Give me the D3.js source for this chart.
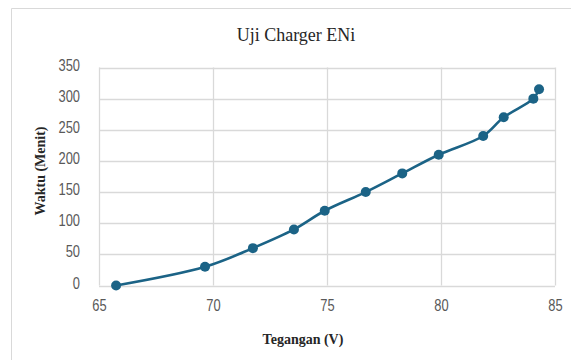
<!DOCTYPE html>
<html><head><meta charset="utf-8">
<script src="https://cdn.jsdelivr.net/npm/d3@7"></script>
<style>
html,body{margin:0;padding:0;background:#fff;}
svg{display:block;}
</style></head>
<body>
<svg id="chart" width="571" height="360"></svg>
<script>
const title = "Uji Charger ENi";
const xTitle = "Tegangan (V)";
const yTitle = "Waktu (Menit)";
const voltage = [65.75, 69.65, 71.75, 73.55, 74.9, 76.7, 78.3, 79.9, 81.85, 82.75, 84.05, 84.3];
const minutes = [0, 30, 60, 90, 120, 150, 180, 210, 240, 270, 300, 315];
const xTicks = [65, 70, 75, 80, 85];
const yTicks = [0, 50, 100, 150, 200, 250, 300, 350];

const svg = d3.select("#chart");
const m = {left: 99, right: 555, top: 67.5, bottom: 285.5};
const x = d3.scaleLinear().domain([65, 85]).range([m.left, m.right]);
const y = d3.scaleLinear().domain([0, 350]).range([m.bottom, m.top]);

// outer chart border
svg.append("path").attr("d", "M11.5,360 V8.5 H571").attr("fill", "none").attr("stroke", "#d9d9d9").attr("stroke-width", 1);

// gridlines
const grid = svg.append("g");
grid.selectAll(".hg").data(yTicks).join("line")
  .attr("x1", m.left).attr("x2", m.right)
  .attr("y1", d => Math.round(y(d)) + 0.5).attr("y2", d => Math.round(y(d)) + 0.5)
  .attr("stroke", "#d9d9d9").attr("stroke-width", 1.3);
grid.selectAll(".vg").data(xTicks).join("line")
  .attr("y1", m.top).attr("y2", m.bottom)
  .attr("x1", d => Math.round(x(d)) + 0.5).attr("x2", d => Math.round(x(d)) + 0.5)
  .attr("stroke", "#d9d9d9").attr("stroke-width", 1.3);

// axes (labels only), narrow look via horizontal scaling
const fontTick = "'Liberation Sans','Arial',sans-serif";
const sx = 0.76;
const xAxis = svg.append("g").attr("transform", `translate(0,${m.bottom})`)
  .call(d3.axisBottom(x).tickValues(xTicks).tickSize(0).tickPadding(13));
xAxis.select(".domain").remove();
xAxis.selectAll("text").attr("fill", "#595959").style("font-family", fontTick).style("font-size", "17px")
  .attr("transform", `scale(${sx},1)`);

const yPad = 19;
const yAxis = svg.append("g").attr("transform", `translate(${m.left},0)`)
  .call(d3.axisLeft(y).tickValues(yTicks).tickSize(0).tickPadding(yPad));
yAxis.select(".domain").remove();
yAxis.selectAll("text").attr("fill", "#595959").style("font-family", fontTick).style("font-size", "17px")
  .attr("x", -yPad / sx).attr("dy", "0.15em").attr("transform", `scale(${sx},1)`);

// line
const color = "#1b6386";
const line = d3.line().x((d, i) => x(voltage[i])).y(d => y(d)).curve(d3.curveCatmullRom.alpha(0.5));
svg.append("path").datum(minutes).attr("d", line)
  .attr("fill", "none").attr("stroke", color).attr("stroke-width", 2.6).attr("stroke-linejoin", "round");
svg.selectAll(".pt").data(minutes).join("circle")
  .attr("cx", (d, i) => x(voltage[i])).attr("cy", d => y(d)).attr("r", 5).attr("fill", color);

// titles
const serif = "'Liberation Serif','Times New Roman',serif";
svg.append("text").attr("x", 296).attr("y", 41).attr("text-anchor", "middle")
  .style("font-family", serif).style("font-size", "18px").attr("fill", "#262626").text(title);
svg.append("text").attr("x", 303).attr("y", 344).attr("text-anchor", "middle")
  .style("font-family", serif).style("font-size", "14px").style("font-weight", "bold").attr("fill", "#262626").text(xTitle);
svg.append("text").attr("transform", "translate(45,171) rotate(-90)").attr("text-anchor", "middle")
  .style("font-family", serif).style("font-size", "14px").style("font-weight", "bold").attr("fill", "#262626").text(yTitle);
</script>
</body></html>
